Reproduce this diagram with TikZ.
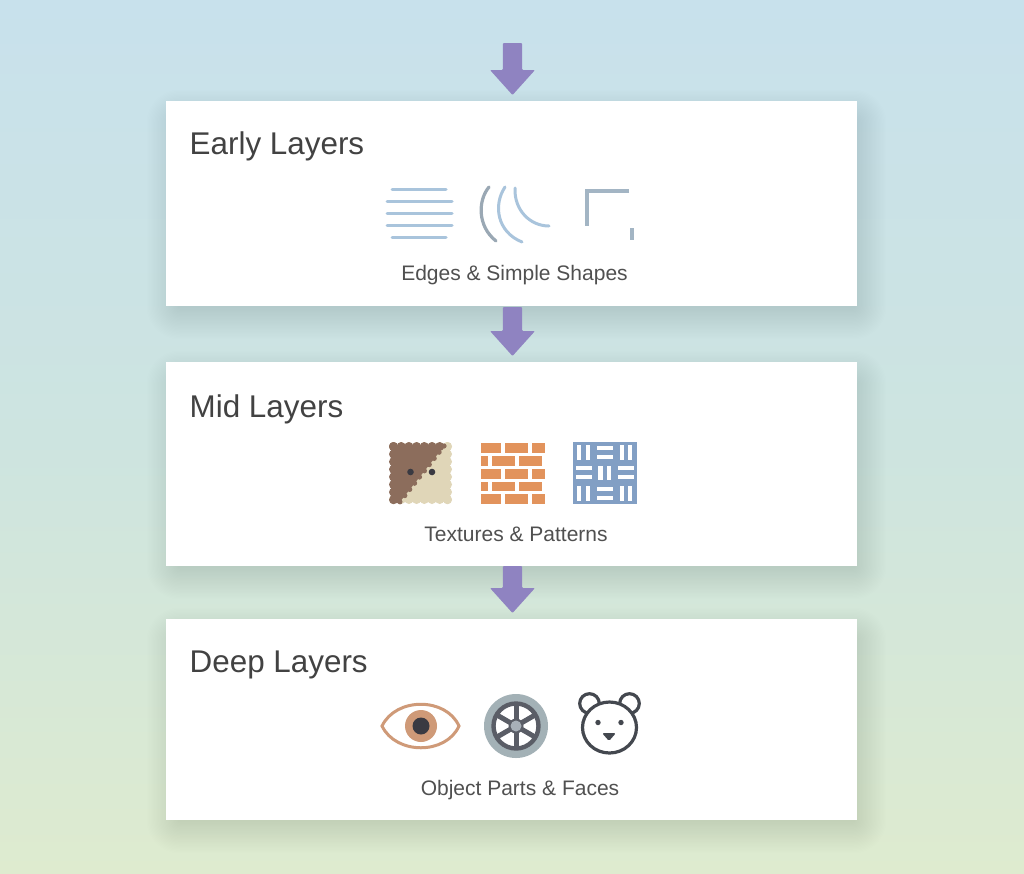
\documentclass[tikz,border=0pt]{standalone}
\usepackage{fontspec}
\setmainfont{Liberation Sans}
\usetikzlibrary{calc}
\definecolor{bgtop}{HTML}{C8E1EC}
\definecolor{bgmid}{HTML}{CDE4E0}
\definecolor{bgbot}{HTML}{DEEBCF}
\definecolor{arrowc}{HTML}{8F83C1}
\definecolor{inkc}{HTML}{424242}
\definecolor{subc}{HTML}{505050}
\definecolor{lineb}{HTML}{A9C4DC}
\definecolor{lineg}{HTML}{9AA8B4}
\definecolor{cornerc}{HTML}{A3B5C4}
\definecolor{brownc}{HTML}{8C6D5C}
\definecolor{beigec}{HTML}{E0D6B8}
\definecolor{brickc}{HTML}{E2935C}
\definecolor{weavec}{HTML}{829FC4}
\definecolor{eyec}{HTML}{CF9A78}
\definecolor{darkc}{HTML}{3A3A42}
\definecolor{tyrec}{HTML}{A3B1B6}
\definecolor{spokec}{HTML}{5A5D66}
\definecolor{hubc}{HTML}{A8B0B8}
\definecolor{bearc}{HTML}{44484F}
\definecolor{shadowc}{HTML}{5A7A90}
\pgfdeclareverticalshading{bgshade}{100bp}{
 color(0bp)=(bgbot); color(25bp)=(bgbot); color(50bp)=(bgmid); color(75bp)=(bgtop); color(100bp)=(bgtop)}
\tikzset{
 x=1pt,y=-1pt,
 card/.style={fill=white,draw=none,inner sep=0pt,outer sep=0pt,anchor=north west},
 cardtitle/.style={anchor=base west,inner sep=0pt,font=\fontsize{31.4}{36}\selectfont,text=inkc},
 cardsub/.style={anchor=base,inner sep=0pt,font=\fontsize{21}{24}\selectfont,text=subc},
 thinb/.style={draw=lineb,line width=3pt,line cap=round},
 arcg/.style={draw=lineg,line width=3.2pt,line cap=round},
 cornerl/.style={draw=cornerc,line width=3.2pt},
 brick/.style={fill=brickc},
 weave/.style={fill=weavec},
 blockarrow/.pic={
  \fill[arrowc,rounded corners=1pt] (-9.7,0) -- (9.7,0) -- (9.7,#1-25) -- (22.5,#1-25) -- (0,#1) -- (-22.5,#1-25) -- (-9.7,#1-25) -- cycle;
 },
}
\newcommand{\softshadow}[4]{% x1,y1,x2,y2
 \foreach \s in {-6,...,18}{
  \pgfmathsetmacro{\rr}{\s*1.3+10}
  \fill[shadowc,opacity=0.0036,rounded corners=\rr pt] (#1-\s*1.3+4,#2-\s*1.3+12) rectangle (#3+\s*1.3+6,#4+\s*1.3+10);
 }}
\newcommand{\edgebumps}[5]{% x0,y0,dx,dy,colour list by count
 \foreach \k in {0,...,#5}{\fill[#4] ($(#1,#2)+\k*(#3)$) circle[radius=4.5];}}
\begin{document}
\begin{tikzpicture}
\useasboundingbox (0,0) rectangle (1024,873);
\fill[shading=bgshade] (0,0) rectangle (1024,873);
% shadows
\softshadow{166}{101}{857}{306}
\softshadow{166}{362}{857}{566}
\softshadow{166}{619}{857}{820}
% cards
\node[card,minimum width=691pt,minimum height=205pt] (early) at (166,101) {};
\node[card,minimum width=691pt,minimum height=204pt] (mid) at (166,362) {};
\node[card,minimum width=691pt,minimum height=201pt] (deep) at (166,619) {};
% arrows
\coordinate (a0) at (512.5,43);
\pic at (a0) {blockarrow=52};
\pic at ($(early.south west)+(346.5,1)$) {blockarrow=49};
\pic at ($(mid.south west)+(346.5,0)$) {blockarrow=47};
% titles
\node[cardtitle] (t1) at (189.5,154) {Early Layers};
\node[cardtitle] (t2) at (189.5,417) {Mid Layers};
\node[cardtitle] (t3) at (189.5,672) {Deep Layers};
\node[cardsub] (s1) at (514.5,280) {Edges \& Simple Shapes};
\node[cardsub] (s2) at (516,541) {Textures \& Patterns};
\node[cardsub] (s3) at (520,795) {Object Parts \& Faces};
% --- early icons
\draw[thinb] (392,189.3) -- (446,189.3);
\draw[thinb] (387,201) -- (452,201);
\draw[thinb] (387,213) -- (452,213);
\draw[thinb] (387,225) -- (452,225);
\draw[thinb] (392,237) -- (446,237);
\draw[arcg] (489,187) .. controls (478,200) and (477,226) .. (496,241);
\draw[thinb] (505,187) .. controls (493,205) and (497,232) .. (522,242);
\draw[thinb] (515,188) .. controls (514,210) and (530,226) .. (549,226);
\draw[cornerl] (629,191) -- (587,191) -- (587,226);
\draw[cornerl] (632,228) -- (632,240);
% --- mid icon 1: scalloped biscuit
\fill[beigec] (391,445) rectangle (450,502);
\edgebumps{393.5}{499.5}{7.7,0}{beigec}{7}
\edgebumps{447.5}{446.5}{0,7.6}{beigec}{7}
\edgebumps{393.5}{446.5}{7.7,0}{beigec}{7}
\edgebumps{393.5}{446.5}{7.7,0}{brownc}{6}
\edgebumps{393.5}{446.5}{0,7.6}{brownc}{7}
\fill[brownc] (391,445) -- (445,445) -- (399,503) -- (391,503) -- cycle;
\foreach \t in {0,...,9}{
 \fill[brownc] ($(444,446)+\t*(-4.9,6.2)$) circle[radius=2.6];
}
\fill[darkc] (410.5,472) circle[radius=3.3];
\fill[darkc] (432,472) circle[radius=3.3];
% --- bricks
\foreach \yy in {443,469,494.2}{
 \fill[brick] (481,\yy) rectangle +(20.3,9.5);
 \fill[brick] (505,\yy) rectangle +(23.3,9.5);
 \fill[brick] (532.3,\yy) rectangle +(12.3,9.5);
}
\foreach \yy in {456,481.8}{
 \fill[brick] (481,\yy) rectangle +(7,9.5);
 \fill[brick] (491.7,\yy) rectangle +(23.3,9.5);
 \fill[brick] (519,\yy) rectangle +(23.3,9.5);
}
% --- weave
\foreach \cx/\cy/\o in {0/0/1,1/0/0,2/0/1,0/1/0,1/1/1,2/1/0,0/2/1,1/2/0,2/2/1}{
 \begin{scope}[shift={(573+\cx*21.3,442+\cy*20.5)}]
  \fill[weave] (0,0) rectangle (21.3,20.5);
  \ifnum\o=1
   \fill[white] (4,3) rectangle (8.2,17.5);
   \fill[white] (12.6,3) rectangle (16.8,17.5);
  \else
   \fill[white] (2.6,3.7) rectangle (18.7,7.5);
   \fill[white] (2.6,12.7) rectangle (18.7,16.5);
  \fi
 \end{scope}
}
% --- eye
\draw[eyec,line width=3pt,line join=miter] (382,726) .. controls (396,697) and (446,697) .. (459,726) .. controls (446,755) and (396,755) .. cycle;
\fill[eyec] (421,726) circle[radius=16];
\fill[darkc] (421,726) circle[radius=8.5];
% --- wheel
\fill[tyrec] (516,726) circle[radius=32];
\fill[white] (516,726) circle[radius=24];
\foreach \ang in {90,150,210}{
 \draw[spokec,line width=5pt] ($(516,726)+(\ang:23)$) -- ($(516,726)+(\ang+180:23)$);
}
\draw[spokec,line width=4.4pt] (516,726) circle[radius=22.5];
\fill[spokec] (516,726) circle[radius=7.5];
\fill[hubc] (516,726) circle[radius=5.5];
% --- bear
\draw[bearc,line width=3.2pt,fill=white] (589.5,703.5) circle[radius=9.8];
\draw[bearc,line width=3.2pt,fill=white] (629.5,703.5) circle[radius=9.8];
\draw[bearc,line width=3.2pt,fill=white] (609.5,727.5) ellipse[x radius=27,y radius=25.5];
\fill[bearc] (598,722.5) circle[radius=2.7];
\fill[bearc] (621,722.5) circle[radius=2.7];
\fill[bearc,rounded corners=1.5pt] (602,733) -- (616,733) -- (609,741) -- cycle;
\end{tikzpicture}
\end{document}
